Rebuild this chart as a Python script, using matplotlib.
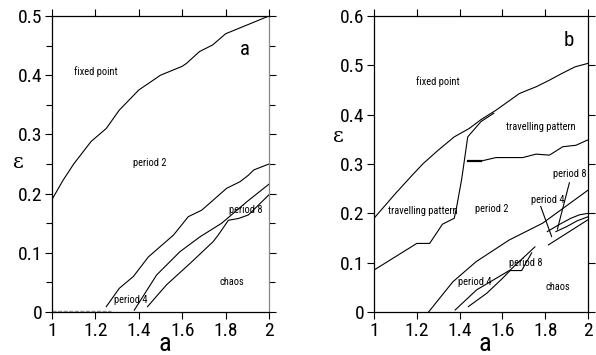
import matplotlib
matplotlib.use("Agg")
import matplotlib.pyplot as plt
from matplotlib.ticker import MultipleLocator, FuncFormatter

# ---------------- data: panel a ----------------
a_fix_x = [1.0, 1.05, 1.1, 1.18, 1.25, 1.31, 1.4, 1.5, 1.6, 1.62, 1.68, 1.74, 1.8, 1.9, 2.0]
a_fix_y = [0.19, 0.222, 0.25, 0.288, 0.31, 0.341, 0.375, 0.40, 0.415, 0.42, 0.44, 0.451, 0.47, 0.485, 0.5]

a_p2_x = [1.25, 1.31, 1.375, 1.444, 1.56, 1.628, 1.69, 1.805, 1.866, 1.905, 1.93, 2.0]
a_p2_y = [0.009, 0.04, 0.06, 0.093, 0.13, 0.161, 0.172, 0.209, 0.22, 0.231, 0.24, 0.25]

a_p4_x = [1.379, 1.482, 1.59, 1.682, 1.782, 1.897, 2.0]
a_p4_y = [0.003, 0.0625, 0.102, 0.127, 0.15, 0.186, 0.216]

a_p8_x = [1.44, 1.528, 1.636, 1.743, 1.766, 1.813, 1.86, 1.905, 2.0]
a_p8_y = [0.009, 0.046, 0.082, 0.119, 0.13, 0.155, 0.158, 0.164, 0.198]

a_labels = [("fixed point", 1.2, 0.407), ("period 2", 1.45, 0.252),
            ("period 8", 1.895, 0.172), ("period 4", 1.364, 0.02),
            ("chaos", 1.83, 0.05)]

# ---------------- data: panel b ----------------
b_fix_x = [1.0, 1.1, 1.18, 1.23, 1.3, 1.375, 1.445, 1.5, 1.57, 1.68, 1.76, 1.82, 1.88, 1.94, 2.0]
b_fix_y = [0.19, 0.24, 0.278, 0.301, 0.328, 0.355, 0.372, 0.39, 0.409, 0.443, 0.457, 0.47, 0.484, 0.497, 0.504]

b_tl_x = [1.0, 1.1, 1.2, 1.26, 1.32, 1.375, 1.385, 1.41, 1.438, 1.5, 1.56]
b_tl_y = [0.085, 0.112, 0.139, 0.139, 0.178, 0.19, 0.21, 0.27, 0.355, 0.386, 0.403]

b_tr_x = [1.44, 1.5, 1.57, 1.695, 1.757, 1.82, 1.882, 1.944, 2.0]
b_tr_y = [0.306, 0.306, 0.313, 0.313, 0.32, 0.318, 0.335, 0.338, 0.349]

b_p2_x = [1.255, 1.368, 1.477, 1.632, 1.788, 2.0]
b_p2_y = [0.0, 0.061, 0.102, 0.146, 0.18, 0.247]

b_p4_x = [1.379, 1.48, 1.558, 1.636, 1.752]
b_p4_y = [0.004, 0.045, 0.065, 0.085, 0.132]

b_p8_x = [1.441, 1.527, 1.60, 1.636, 1.69, 1.737]
b_p8_y = [0.011, 0.038, 0.068, 0.084, 0.084, 0.12]

b_r1_x = [1.81, 1.86, 1.92, 1.96, 2.0]
b_r1_y = [0.163, 0.176, 0.19, 0.197, 0.2]
b_r2_x = [1.85, 1.9, 1.95, 2.0]
b_r2_y = [0.163, 0.173, 0.185, 0.193]
b_r3_x = [1.815, 2.0]
b_r3_y = [0.136, 0.187]

b_labels = [("fixed point", 1.30, 0.468), ("travelling pattern", 1.78, 0.376),
            ("travelling pattern", 1.23, 0.205), ("period 2", 1.55, 0.208),
            ("period 4", 1.47, 0.061), ("period 8", 1.71, 0.099),
            ("chaos", 1.86, 0.05)]
# annotation lines: (label, text x, text y, line x0, y0, x1, y1)
b_annot = [("period 8", 1.915, 0.279, 1.913, 0.262, 1.857, 0.168),
           ("period 4", 1.81, 0.228, 1.779, 0.214, 1.83, 0.153)]

x_ticks = [1, 1.2, 1.4, 1.6, 1.8, 2]

plt.rcParams['font.family'] = ['Roboto Condensed', 'DejaVu Sans']

fig = plt.figure(figsize=(5.96, 3.55), dpi=100)
ax1 = fig.add_axes([52/596, 1-312/355, 217/596, 296/355])
ax2 = fig.add_axes([374/596, 1-312/355, 214/596, 296/355])

fmt = FuncFormatter(lambda v, p: ('%g' % round(v, 3)))

def style(ax, ymax, minor):
    ax.set_xlim(1, 2)
    ax.set_ylim(0, ymax)
    ax.set_xticks(x_ticks)
    ax.xaxis.set_major_formatter(fmt)
    ax.yaxis.set_major_locator(MultipleLocator(0.1))
    ax.yaxis.set_major_formatter(fmt)
    if minor:
        ax.yaxis.set_minor_locator(MultipleLocator(0.05))
    ax.tick_params(which='both', direction='out', top=True, right=True,
                   labelsize=14, length=5, width=0.8, pad=2)
    ax.tick_params(which='minor', length=4)
    for s in ax.spines.values():
        s.set_linewidth(0.9)

lw = 0.8
ts = 7.5

# panel a
style(ax1, 0.5, True)
ax1.spines['right'].set_color('#888888')
for xs, ys in [(a_fix_x, a_fix_y), (a_p2_x, a_p2_y), (a_p4_x, a_p4_y), (a_p8_x, a_p8_y)]:
    ax1.plot(xs, ys, color='black', lw=lw)
ax1.plot([1.0, 1.27], [0.001, 0.001], color='#999999', lw=1.0, ls=(0, (3, 1)))
for t, x, y in a_labels:
    ax1.text(x, y, t, fontsize=ts, ha='center', va='center')
ax1.text(1.89, 0.443, 'a', fontsize=15, ha='center', va='center')
ax1.text(1.52, -0.0665, 'a', fontsize=19, ha='center', va='baseline')
ax1.text(-0.157, 0.252, 'ε', fontsize=15, ha='center', va='center',
         family=['DejaVu Serif'], transform=ax1.get_yaxis_transform())

# panel b
style(ax2, 0.6, False)
for xs, ys in [(b_fix_x, b_fix_y), (b_tl_x, b_tl_y), (b_tr_x, b_tr_y),
               (b_p2_x, b_p2_y), (b_p4_x, b_p4_y), (b_p8_x, b_p8_y),
               (b_r1_x, b_r1_y), (b_r2_x, b_r2_y), (b_r3_x, b_r3_y)]:
    ax2.plot(xs, ys, color='black', lw=lw)
ax2.plot([1.44, 1.5], [0.306, 0.306], color='black', lw=1.6)
ax2.plot([1.2, 1.4], [0.599, 0.599], color='#777777', lw=1.5)
for t, x, y in b_labels:
    ax2.text(x, y, t, fontsize=ts, ha='center', va='center')
for t, tx, ty, x0, y0, x1, y1 in b_annot:
    ax2.text(tx, ty, t, fontsize=ts, ha='center', va='center')
    ax2.plot([x0, x1], [y0, y1], color='black', lw=lw)
ax2.text(1.91, 0.551, 'b', fontsize=15, ha='center', va='center')
ax2.text(1.52, -0.08, 'a', fontsize=19, ha='center', va='baseline')
ax2.text(-0.165, 0.355, 'ε', fontsize=15, ha='center', va='center',
         family=['DejaVu Serif'], transform=ax2.get_yaxis_transform())

fig.savefig('out.png', dpi=100)
